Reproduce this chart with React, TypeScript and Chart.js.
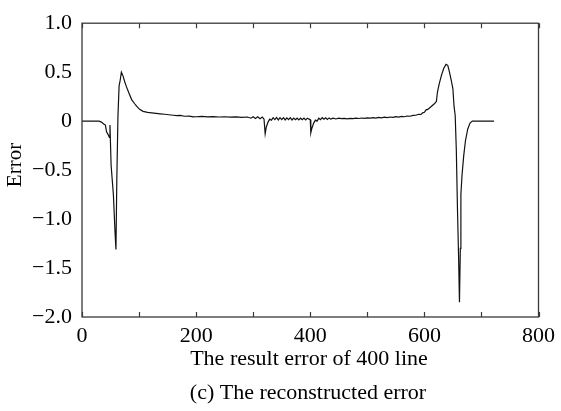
import React, { useEffect, useRef } from "react";
import { Chart, registerables } from "chart.js";

Chart.register(...registerables);

const xValues: number[] = [
  0, 30, 34, 38, 41, 43, 46, 48, 49, 51, 55, 58, 59.5, 61, 63, 65, 67, 69, 72, 75,
  78, 82, 87, 92, 96, 101, 107, 115, 122, 130, 137, 145, 152, 160, 166, 172, 180, 188, 195,
  200, 210, 220, 230, 240, 250, 260, 270, 280, 290, 296, 300, 304, 308, 312, 316, 319,
  321, 323, 326, 329, 332, 335, 338, 341, 344, 347, 350, 353, 356, 359, 362, 365, 368,
  371, 374, 377, 380, 383, 386, 389, 392, 395, 398, 400, 401, 403, 406, 409, 412, 415,
  418, 421, 424, 427, 430, 433, 436, 440, 445, 450, 455, 460, 465, 470, 475, 480, 485,
  490, 495, 500, 505, 510, 515, 520, 525, 530, 535, 540, 545, 550, 555, 560, 565, 570,
  575, 580, 585, 590, 594, 597, 600, 603, 606, 610, 614, 618, 621, 623, 626, 630, 634,
  638, 641, 644, 647, 650, 652, 654, 656, 658, 660, 661.5, 663, 664, 666, 669, 672, 676,
  680, 684, 722,
];

const errorValues: number[] = [
  0, 0, -0.01, -0.03, -0.04, -0.11, -0.14, -0.165, -0.04, -0.45, -0.75, -1.15, -1.31, -0.6, 0.05, 0.36, 0.42, 0.5, 0.46, 0.4,
  0.35, 0.29, 0.22, 0.18, 0.15, 0.12, 0.1, 0.09, 0.085, 0.08, 0.075, 0.07, 0.065, 0.06, 0.056, 0.058, 0.05, 0.052, 0.043,
  0.045, 0.048, 0.044, 0.046, 0.042, 0.045, 0.04, 0.043, 0.038, 0.042, 0.03, 0.045, 0.028, 0.044, 0.025, 0.042, 0.02,
  -0.13, -0.06, -0.01, 0.02, 0.01, 0.035, 0.015, 0.038, 0.012, 0.035, 0.015, 0.035, 0.012, 0.033, 0.015, 0.035, 0.012,
  0.032, 0.015, 0.03, 0.012, 0.03, 0.015, 0.032, 0.012, 0.03, 0.02, 0.015, -0.12, -0.07, -0.02, 0.01, 0.0, 0.03,
  0.015, 0.035, 0.02, 0.035, 0.018, 0.033, 0.02, 0.03, 0.022, 0.03, 0.025, 0.028, 0.024, 0.028, 0.026, 0.03, 0.027,
  0.032, 0.028, 0.033, 0.03, 0.036, 0.031, 0.038, 0.033, 0.04, 0.036, 0.042, 0.038, 0.045, 0.042, 0.048, 0.045, 0.052,
  0.05, 0.058, 0.06, 0.07, 0.068, 0.085, 0.09, 0.115, 0.12, 0.14, 0.16, 0.18, 0.2, 0.3, 0.38, 0.47, 0.54,
  0.58, 0.57, 0.5, 0.42, 0.33, 0.15, 0.06, -0.3, -0.9, -1.4, -1.85, -1.3, -0.75, -0.55, -0.35, -0.2, -0.08,
  -0.02, 0, 0,
];

const yTickLabels: Record<string, string> = {
  "1": "1.0",
  "0.5": "0.5",
  "0": "0",
  "-0.5": "\u22120.5",
  "-1": "\u22121.0",
  "-1.5": "\u22121.5",
  "-2": "\u22122.0",
};

const xTitle = "The result error of 400 line";
const yTitle = "Error";
const caption = "(c) The reconstructed error";

const FONT = '"Liberation Serif", "Times New Roman", serif';

export default function App() {
  const ref = useRef<HTMLCanvasElement | null>(null);

  useEffect(() => {
    if (!ref.current) return;
    const data = xValues.map((x, i) => ({ x, y: errorValues[i] }));

    const framePlugin = {
      id: "framePlugin",
      afterDraw(chart: any) {
        const { ctx, chartArea, scales } = chart;
        const { left, right, top, bottom } = chartArea;
        ctx.save();
        ctx.strokeStyle = "#3a3a3a";
        ctx.lineWidth = 1.3;
        ctx.strokeRect(left, top, right - left, bottom - top);
        const xs = scales.x;
        ctx.lineWidth = 1.2;
        for (let v = 0; v <= 800; v += 100) {
          const px = Math.round(xs.getPixelForValue(v)) + 0.5;
          ctx.beginPath();
          ctx.moveTo(px, bottom);
          ctx.lineTo(px, bottom - 5);
          ctx.moveTo(px, top);
          ctx.lineTo(px, top + 5);
          ctx.stroke();
        }
        ctx.fillStyle = "#000";
        ctx.font = `22px ${FONT}`;
        ctx.textAlign = "center";
        ctx.textBaseline = "middle";
        ctx.fillText(xTitle, 309, 359);
        ctx.fillText(caption, 308, 393);
        ctx.translate(15, 165);
        ctx.rotate(-Math.PI / 2);
        ctx.font = `21px ${FONT}`;
        ctx.fillText(yTitle, 0, 0);
        ctx.restore();
      },
    };

    const chart = new Chart(ref.current, {
      type: "line",
      data: {
        datasets: [
          {
            data,
            borderColor: "#111",
            borderWidth: 1.2,
            pointRadius: 0,
            fill: false,
            tension: 0,
          },
        ],
      },
      options: {
        animation: false,
        responsive: false,
        devicePixelRatio: 1,
        layout: { padding: { top: 14, right: 22, left: 0, bottom: 0 } },
        plugins: {
          legend: { display: false },
          tooltip: { enabled: false },
        },
        scales: {
          x: {
            type: "linear",
            min: 0,
            max: 800,
            grid: { display: false, drawTicks: false },
            border: { display: false },
            ticks: {
              stepSize: 100,
              autoSkip: false,
              maxRotation: 0,
              padding: 6,
              color: "#000",
              font: { family: FONT, size: 22 },
              callback: (v: any) => (Number(v) % 200 === 0 ? String(v) : ""),
            },
            afterFit: (s: any) => {
              s.height = 94;
            },
          },
          y: {
            type: "linear",
            min: -2,
            max: 1,
            grid: { display: false, drawTicks: false },
            border: { display: false },
            ticks: {
              stepSize: 0.5,
              padding: 10,
              color: "#000",
              font: { family: FONT, size: 22 },
              callback: (v: any) => yTickLabels[String(Number(v))] ?? String(v),
            },
            afterFit: (s: any) => {
              s.width = 82;
            },
          },
        },
      },
      plugins: [framePlugin],
    } as any);

    return () => chart.destroy();
  }, []);

  return (
    <div style={{ position: "absolute", left: 0, top: 0, width: 561, height: 411, background: "#fff" }}>
      <canvas ref={ref} width={561} height={411} style={{ display: "block" }} />
    </div>
  );
}
